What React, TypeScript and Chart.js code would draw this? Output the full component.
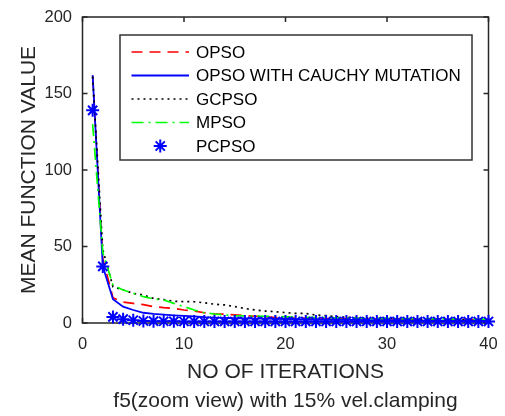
import React, { useEffect, useRef } from 'react';
import { Chart, registerables } from 'chart.js';

Chart.register(...registerables);

// ---------- data ----------
const iterations = [
  1, 2, 3, 4, 5, 6, 7, 8, 9, 10, 11, 12, 13, 14, 15, 16, 17, 18, 19, 20,
  21, 22, 23, 24, 25, 26, 27, 28, 29, 30, 31, 32, 33, 34, 35, 36, 37, 38, 39, 40,
];
const xTickValues = [0, 10, 20, 30, 40];
const yTickValues = [0, 50, 100, 150, 200];

const opso = [
  161, 42, 16.5, 13.7, 12.8, 12, 10.7, 10, 9.6, 8.5, 7.8, 6.7, 6, 5.8, 5.3, 4.8, 4.4, 4.1, 3.6, 3.3,
  3.2, 3.1, 3, 2.9, 2.8, 2.8, 2.7, 2.6, 2.6, 2.5, 2.5, 2.4, 2.4, 2.3, 2.3, 2.2, 2.2, 2.2, 2.1, 2.1,
];
const opsoCauchy = [
  162, 37, 15.5, 10.7, 8.5, 6.7, 6, 5.5, 5, 4.6, 4.3, 3.8, 3.5, 3.3, 3.1, 3.0, 2.9, 2.8, 2.7, 2.6,
  2.5, 2.4, 2.3, 2.2, 2.1, 2.0, 2.0, 1.9, 1.9, 1.8, 1.8, 1.7, 1.7, 1.6, 1.6, 1.6, 1.5, 1.5, 1.5, 1.5,
];
const gcpso = [
  161, 48, 23.7, 21.6, 19.4, 18.3, 16.1, 15.3, 14.2, 14, 13.9, 13.2, 12.3, 11.8, 10.7, 9.5, 8.5, 7.8, 7.4, 6.8,
  6.3, 6.2, 5.2, 4.8, 4.1, 3.7, 3.5, 3.3, 3.1, 3.0, 2.9, 2.8, 2.7, 2.6, 2.6, 2.5, 2.5, 2.4, 2.4, 2.3,
];
const mpso = [
  130, 46, 24.8, 21.6, 19.4, 17.2, 15.7, 15, 12.8, 10.7, 8.5, 6.7, 5.9, 5.3, 4.8, 4.6, 4.5, 4.4, 4.3, 4.0,
  3.8, 3.7, 3.6, 3.5, 3.4, 3.3, 3.2, 3.1, 3.0, 3.0, 2.9, 2.9, 2.8, 2.8, 2.7, 2.7, 2.6, 2.6, 2.5, 2.5,
];
const pcpso = [
  139, 37, 4, 2.5, 1.8, 1.3, 1.2, 1.1, 1.1, 1, 1, 1, 1, 1, 1, 1, 1, 1, 1, 1,
  1, 1, 1, 1, 1, 1, 1, 1, 1, 1, 1, 1, 1, 1, 1, 1, 1, 1, 1, 1,
];

const seriesLabels = ['OPSO', 'OPSO WITH CAUCHY MUTATION', 'GCPSO', 'MPSO', 'PCPSO'];
const xAxisTitle = 'NO OF ITERATIONS';
const yAxisTitle = 'MEAN FUNCTION VALUE';
const captionText = 'f5(zoom view) with 15% vel.clamping';

const FONT = "'Liberation Sans', Arial, Helvetica, sans-serif";
const AXIS_COLOR = '#262626';

const toPoints = (vals: number[]) => iterations.map((x, i) => ({ x, y: vals[i] }));

function drawStar(ctx: CanvasRenderingContext2D, x: number, y: number, r: number) {
  ctx.beginPath();
  for (let k = 0; k < 4; k++) {
    const a = (k * Math.PI) / 4;
    ctx.moveTo(x - Math.cos(a) * r, y - Math.sin(a) * r);
    ctx.lineTo(x + Math.cos(a) * r, y + Math.sin(a) * r);
  }
  ctx.stroke();
}

const framePlugin = {
  id: 'matlabFrame',
  beforeDatasetsDraw(chart: any) {
    const { ctx, chartArea: a, scales } = chart;
    ctx.save();
    ctx.strokeStyle = AXIS_COLOR;
    ctx.lineWidth = 1.5;
    ctx.setLineDash([]);
    ctx.strokeRect(a.left, a.top, a.right - a.left, a.bottom - a.top);
    const len = 5;
    ctx.beginPath();
    scales.x.ticks.forEach((t: any) => {
      const px = scales.x.getPixelForValue(t.value);
      ctx.moveTo(px, a.bottom);
      ctx.lineTo(px, a.bottom - len);
      ctx.moveTo(px, a.top);
      ctx.lineTo(px, a.top + len);
    });
    scales.y.ticks.forEach((t: any) => {
      const py = scales.y.getPixelForValue(t.value);
      ctx.moveTo(a.left, py);
      ctx.lineTo(a.left + len, py);
      ctx.moveTo(a.right, py);
      ctx.lineTo(a.right - len, py);
    });
    ctx.stroke();
    ctx.restore();
  },
};

const legendPlugin = {
  id: 'boxLegend',
  afterDatasetsDraw(chart: any) {
    const { ctx, chartArea: a } = chart;
    const left = a.left + 37.5;
    const top = a.top + 18;
    const w = 352;
    const h = 125;
    ctx.save();
    ctx.setLineDash([]);
    ctx.fillStyle = '#ffffff';
    ctx.fillRect(left, top, w, h);
    ctx.strokeStyle = '#333333';
    ctx.lineWidth = 1.5;
    ctx.strokeRect(left, top, w, h);
    const rowStart = top + 17;
    const rowGap = 23.5;
    const lineX0 = left + 11.5;
    const lineX1 = left + 69;
    const textX = left + 76;
    ctx.font = `17px ${FONT}`;
    ctx.textBaseline = 'middle';
    ctx.textAlign = 'left';
    chart.data.datasets.forEach((ds: any, i: number) => {
      const y = rowStart + i * rowGap;
      ctx.strokeStyle = ds.borderColor;
      ctx.lineWidth = ds.borderWidth;
      if (ds.showLine === false) {
        ctx.setLineDash([]);
        ctx.lineWidth = ds.pointBorderWidth;
        drawStar(ctx, (lineX0 + lineX1) / 2, y, ds.pointRadius);
      } else {
        ctx.setLineDash(ds.borderDash || []);
        ctx.beginPath();
        ctx.moveTo(lineX0, y);
        ctx.lineTo(lineX1, y);
        ctx.stroke();
      }
      ctx.setLineDash([]);
      ctx.fillStyle = '#000000';
      ctx.fillText(ds.label, textX, y + 1);
    });
    ctx.restore();
  },
};

export default function App() {
  const canvasRef = useRef<HTMLCanvasElement | null>(null);

  useEffect(() => {
    document.body.style.margin = '0';
    const canvas = canvasRef.current;
    if (!canvas) return;
    const chart = new Chart(canvas, {
      type: 'line',
      data: {
        datasets: [
          {
            label: seriesLabels[0],
            data: toPoints(opso),
            borderColor: '#ff0000',
            borderWidth: 1.7,
            borderDash: [11, 7],
            pointRadius: 0,
            order: 5,
          },
          {
            label: seriesLabels[1],
            data: toPoints(opsoCauchy),
            borderColor: '#0000ff',
            borderWidth: 1.8,
            pointRadius: 0,
            order: 4,
          },
          {
            label: seriesLabels[2],
            data: toPoints(gcpso),
            borderColor: '#000000',
            borderWidth: 1.7,
            borderDash: [2, 4],
            pointRadius: 0,
            order: 3,
          },
          {
            label: seriesLabels[3],
            data: toPoints(mpso),
            borderColor: '#00ff00',
            borderWidth: 1.7,
            borderDash: [12, 5, 2, 5],
            pointRadius: 0,
            order: 2,
          },
          {
            label: seriesLabels[4],
            data: toPoints(pcpso),
            borderColor: '#0000ff',
            backgroundColor: '#0000ff',
            borderWidth: 2,
            showLine: false,
            pointStyle: 'star',
            pointRadius: 6.5,
            pointBorderWidth: 2,
            pointBorderColor: '#0000ff',
            clip: false,
            order: 1,
          },
        ] as any,
      },
      options: {
        responsive: false,
        animation: false,
        devicePixelRatio: 1,
        layout: { autoPadding: false, padding: { top: 17, right: 16.5, left: 0, bottom: 0 } },
        plugins: {
          legend: { display: false },
          tooltip: { enabled: false },
          title: { display: false },
        },
        scales: {
          x: {
            type: 'linear',
            min: 0,
            max: 40,
            afterBuildTicks: (s: any) => {
              s.ticks = xTickValues.map((v) => ({ value: v }));
            },
            afterFit: (s: any) => {
              s.height = 93;
              s.paddingLeft = 0;
              s.paddingRight = 0;
            },
            grid: { display: false, drawTicks: false },
            border: { display: false },
            ticks: {
              autoSkip: false,
              maxRotation: 0,
              padding: 12,
              color: AXIS_COLOR,
              font: { family: FONT, size: 16.5 },
            },
            title: {
              display: true,
              text: [xAxisTitle, captionText],
              color: AXIS_COLOR,
              font: { family: FONT, size: 21, lineHeight: 1.38 },
              padding: { top: 0, bottom: 0 },
            },
          },
          y: {
            type: 'linear',
            min: 0,
            max: 200,
            afterBuildTicks: (s: any) => {
              s.ticks = yTickValues.map((v) => ({ value: v }));
            },
            afterFit: (s: any) => {
              s.width = 82.5;
              s.paddingTop = 0;
              s.paddingBottom = 0;
            },
            grid: { display: false, drawTicks: false },
            border: { display: false },
            ticks: {
              padding: 10.5,
              color: AXIS_COLOR,
              font: { family: FONT, size: 16.5 },
            },
            title: {
              display: true,
              text: yAxisTitle,
              color: AXIS_COLOR,
              font: { family: FONT, size: 21 },
              padding: { top: 17, bottom: 0 },
            },
          },
        },
      } as any,
      plugins: [framePlugin, legendPlugin],
    });
    return () => chart.destroy();
  }, []);

  return (
    <div
      style={{
        position: 'fixed',
        left: 0,
        top: 0,
        width: 505,
        height: 416,
        background: '#ffffff',
      }}
    >
      <canvas ref={canvasRef} width={505} height={416} style={{ display: 'block' }} />
    </div>
  );
}
